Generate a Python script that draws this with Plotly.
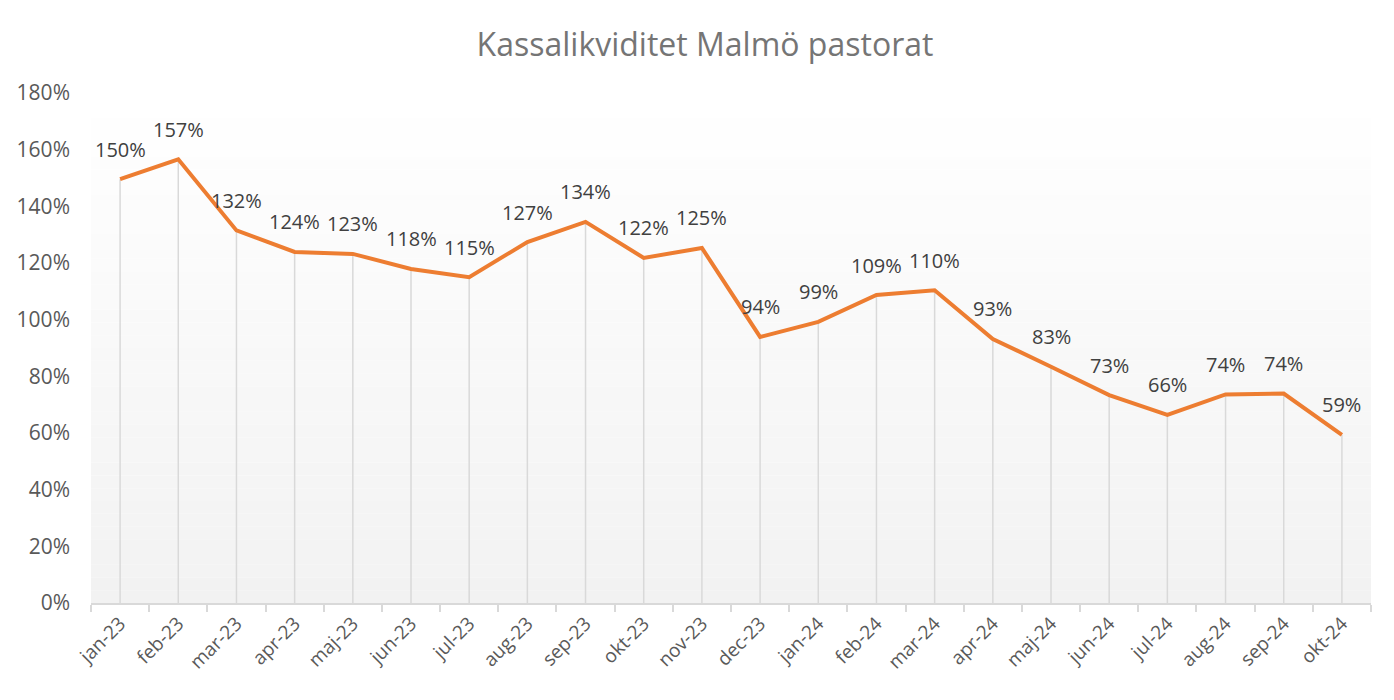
import plotly.graph_objects as go

months = ["jan-23", "feb-23", "mar-23", "apr-23", "maj-23", "jun-23", "jul-23", "aug-23",
          "sep-23", "okt-23", "nov-23", "dec-23", "jan-24", "feb-24", "mar-24", "apr-24",
          "maj-24", "jun-24", "jul-24", "aug-24", "sep-24", "okt-24"]
values = [149.6, 156.6, 131.5, 123.9, 123.2, 117.9, 115.0, 127.4, 134.5, 121.8, 125.3,
          93.9, 99.2, 108.7, 110.4, 93.2, 83.4, 73.4, 66.4, 73.6, 73.9, 59.3]
y_ticks = [0, 20, 40, 60, 80, 100, 120, 140, 160, 180]

FONT = "Open Sans"
fig = go.Figure()

# background gradient (white -> light gray) over the plot area
n = 40
for i in range(n):
    t = i / (n - 1)
    g = int(round(255 - (255 - 242) * t))
    fig.add_shape(type="rect", xref="paper", yref="paper",
                  x0=0, x1=1, y0=1 - (i + 1) / n, y1=1 - i / n,
                  fillcolor=f"rgb({g},{g},{g})", line_width=0, layer="below")

# drop lines
dx, dy = [], []
for m, v in zip(months, values):
    dx += [m, m, None]
    dy += [0, v, None]
fig.add_trace(go.Scatter(x=dx, y=dy, mode="lines",
                         line=dict(color="#d9d9d9", width=1.5),
                         hoverinfo="skip", showlegend=False))

fig.add_trace(go.Scatter(x=months, y=values, mode="lines",
                         line=dict(color="#ED7D31", width=4),
                         showlegend=False))

for m, v in zip(months, values):
    fig.add_annotation(x=m, y=v, text=f"{round(v):d}%", showarrow=False,
                       yshift=30, font=dict(family=FONT, size=20, color="#404040"))

fig.update_layout(
    width=1394, height=700,
    margin=dict(l=83, r=31, t=85, b=105),
    paper_bgcolor="white", plot_bgcolor="rgba(0,0,0,0)",
    title=dict(text="Kassalikviditet Malmö pastorat", x=0.5, xanchor="center",
               y=0.947, yanchor="middle",
               font=dict(family=FONT, size=32, color="#757575")),
    font=dict(family=FONT, size=16, color="#595959"),
)
fig.update_xaxes(type="category", range=[-0.5, len(months) - 0.5], automargin=False,
                 showgrid=False, showline=True, linecolor="#d9d9d9", linewidth=2,
                 ticks="outside", tickson="boundaries", ticklen=7, tickcolor="#d9d9d9",
                 tickwidth=2, tickangle=-45,
                 tickfont=dict(family=FONT, size=19, color="#595959"))
fig.update_yaxes(range=[0, 180], tickvals=y_ticks, automargin=False,
                 ticktext=[f"{v}%" for v in y_ticks],
                 showgrid=False, zeroline=False, showline=False,
                 ticklabelstandoff=20,
                 tickfont=dict(family=FONT, size=21, color="#595959"))

fig.write_html("out.html")
